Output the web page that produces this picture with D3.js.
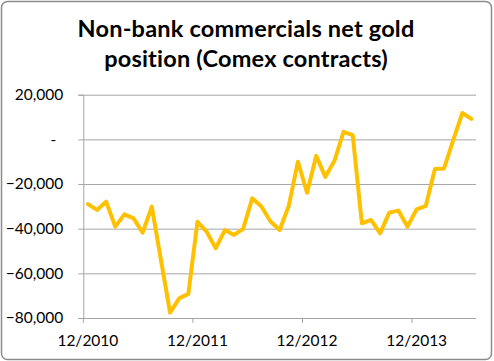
<!DOCTYPE html>
<html>
<head>
<meta charset="utf-8">
<script src="https://cdn.jsdelivr.net/npm/d3@7"></script>
<style>
    body { margin: 0; background: #fff; }
    svg { display: block; font-family: Lato, Carlito, Calibri, sans-serif; }
</style>
</head>
<body>
<div id="chart"></div>
<script>
// monthly data, 12/2010 .. 6/2014
const months = [
    '12/2010', '1/2011', '2/2011', '3/2011', '4/2011', '5/2011', '6/2011', '7/2011', '8/2011', '9/2011', '10/2011', '11/2011',
    '12/2011', '1/2012', '2/2012', '3/2012', '4/2012', '5/2012', '6/2012', '7/2012', '8/2012', '9/2012', '10/2012', '11/2012',
    '12/2012', '1/2013', '2/2013', '3/2013', '4/2013', '5/2013', '6/2013', '7/2013', '8/2013', '9/2013', '10/2013', '11/2013',
    '12/2013', '1/2014', '2/2014', '3/2014', '4/2014', '5/2014', '6/2014',
];
const netPosition = [
    -29000, -31600, -27900, -39100, -33600, -35400, -41800, -30100, -54000, -77600, -71200, -69200,
    -36900, -41300, -48800, -40600, -42800, -40100, -26400, -30100, -36800, -40600, -29800, -10000,
    -23900, -7400, -16800, -9600, 3400, 1900, -37600, -36100, -42100, -32800, -31900, -39100,
    -31300, -29800, -13300, -13000, -500, 11800, 9200,
];
const yTicks = [20000, 0, -20000, -40000, -60000, -80000];
const xLabels = ['12/2010', '12/2011', '12/2012', '12/2013'];
const titleLines = ['Non-bank commercials net gold', 'position (Comex contracts)'];

const W = 494;
const H = 361;
const margin = { top: 94.7, right: 18, bottom: 43, left: 83.3 };
const width = W - margin.left - margin.right;
const height = H - margin.top - margin.bottom;

const svg = d3.select('#chart').append('svg')
    .attr('width', W)
    .attr('height', H);

// chart border
svg.append('rect')
    .attr('x', 1.5).attr('y', 1.5)
    .attr('width', W - 4).attr('height', H - 3)
    .attr('rx', 6)
    .attr('fill', '#fff')
    .attr('stroke', '#8c8c8c')
    .attr('stroke-width', 1.5);

// title
svg.append('text')
    .attr('text-anchor', 'middle')
    .attr('font-weight', 'bold')
    .attr('font-size', 23.5)
    .attr('letter-spacing', 0.2)
    .attr('fill', '#000')
    .selectAll('tspan')
    .data(titleLines)
    .join('tspan')
    .attr('x', 246)
    .attr('y', (d, i) => 37 + i * 29.5)
    .text((d) => d);

const g = svg.append('g')
    .attr('transform', `translate(${margin.left},${margin.top})`);

const x = d3.scaleBand()
    .domain(months)
    .range([0, width]);
const y = d3.scaleLinear()
    .domain([-80000, 20000])
    .range([height, 0]);

// y axis
const yAxis = d3.axisLeft(y)
    .tickValues(yTicks)
    .tickSize(5)
    .tickPadding(15)
    .tickFormat((d) => (d === 0 ? '-' : d3.format(',')(d)));
const yAxisG = g.append('g').call(yAxis);
yAxisG.select('.domain').attr('stroke', '#a6a6a6');
yAxisG.selectAll('.tick line').attr('stroke', '#a6a6a6');
yAxisG.selectAll('.tick text')
    .attr('font-size', 15.5)
    .attr('fill', '#000')
    .attr('font-family', 'Lato, Carlito, Calibri, sans-serif')
    .attr('dx', (d) => (d === 0 ? -7 : 0));

// gridlines
g.append('g')
    .selectAll('line')
    .data(yTicks.filter((d) => d !== -80000))
    .join('line')
    .attr('x1', 0)
    .attr('x2', width)
    .attr('y1', (d) => y(d) + 0.5)
    .attr('y2', (d) => y(d) + 0.5)
    .attr('stroke', '#a6a6a6')
    .attr('stroke-width', 1);

// x axis: ticks between categories every 12 months, labels centered on category
const xAxisG = g.append('g').attr('transform', `translate(0,${height})`);
xAxisG.append('line')
    .attr('x1', 0).attr('x2', width)
    .attr('y1', 0.5).attr('y2', 0.5)
    .attr('stroke', '#a6a6a6');
xAxisG.selectAll('.xtick')
    .data(xLabels.map((d) => x(d)))
    .join('line')
    .attr('class', 'xtick')
    .attr('x1', (d) => d).attr('x2', (d) => d)
    .attr('y1', 0).attr('y2', 5)
    .attr('stroke', '#a6a6a6');
xAxisG.selectAll('.xlab')
    .data(xLabels)
    .join('text')
    .attr('class', 'xlab')
    .attr('x', (d) => x(d) + x.bandwidth() / 2)
    .attr('y', 27.5)
    .attr('text-anchor', 'middle')
    .attr('font-size', 15.5)
    .attr('fill', '#000')
    .text((d) => d);

// series line
const line = d3.line()
    .x((d, i) => x(months[i]) + x.bandwidth() / 2)
    .y((d) => y(d));
g.append('path')
    .datum(netPosition)
    .attr('d', line)
    .attr('fill', 'none')
    .attr('stroke', '#FFC000')
    .attr('stroke-width', 4)
    .attr('stroke-linejoin', 'round')
    .attr('stroke-linecap', 'round');
</script>
</body>
</html>
